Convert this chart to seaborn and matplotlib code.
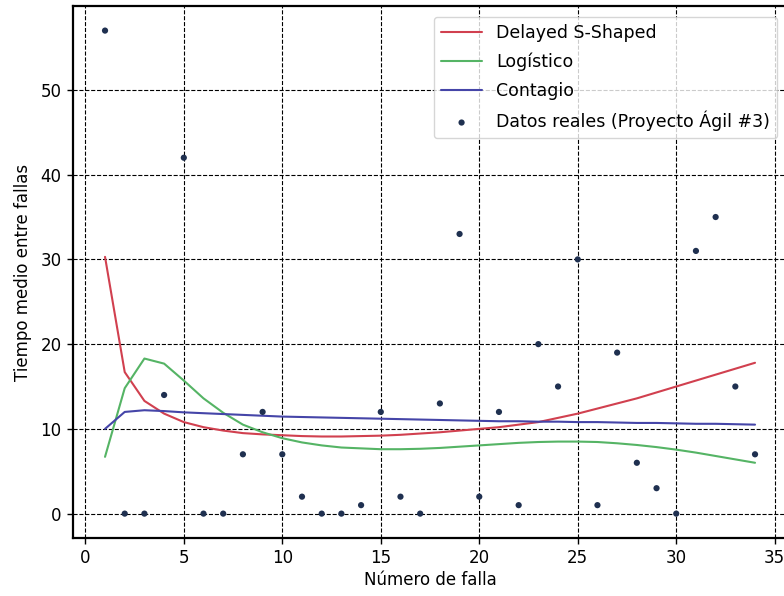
import numpy as np
import pandas as pd
import matplotlib
matplotlib.use('Agg')
import matplotlib.pyplot as plt
import seaborn as sns

# datos observados (tiempo entre fallas)
falla = list(range(1, 35))
tiempo_real = [57, 0, 0, 14, 42, 0, 0, 7, 12, 7, 2, 0, 0, 1, 12, 2, 0, 13, 33, 2,
               12, 1, 20, 15, 30, 1, 19, 6, 3, 0, 31, 35, 15, 7]

# curvas de los modelos
delayed_s = [30.3, 16.7, 13.3, 11.8, 10.8, 10.2, 9.8, 9.5, 9.35, 9.25, 9.15, 9.1, 9.1, 9.15,
             9.2, 9.3, 9.45, 9.6, 9.8, 10.0, 10.2, 10.5, 10.8, 11.3, 11.8, 12.4, 13.0,
             13.6, 14.3, 15.0, 15.7, 16.4, 17.1, 17.8]
logistico = [6.7, 14.8, 18.3, 17.7, 15.7, 13.6, 11.9, 10.5, 9.6, 8.9, 8.4, 8.05, 7.8, 7.7,
             7.6, 7.6, 7.65, 7.75, 7.9, 8.05, 8.2, 8.35, 8.45, 8.5, 8.5, 8.45, 8.3, 8.1,
             7.85, 7.55, 7.2, 6.8, 6.4, 6.0]
contagio = [10.0, 12.0, 12.2, 12.1, 11.95, 11.85, 11.75, 11.65, 11.55, 11.45, 11.4, 11.35,
            11.3, 11.25, 11.2, 11.15, 11.1, 11.05, 11.0, 10.95, 10.9, 10.9, 10.85, 10.85,
            10.8, 10.8, 10.75, 10.7, 10.7, 10.65, 10.6, 10.6, 10.55, 10.5]

modelos = ['Delayed S-Shaped', 'Logístico', 'Contagio']
colores = ['#d1404f', '#55b465', '#4545a8']

df_mod = pd.DataFrame({
    'falla': falla * 3,
    'tiempo': delayed_s + logistico + contagio,
    'modelo': [m for m in modelos for _ in falla],
})
df_real = pd.DataFrame({'falla': falla, 'tiempo': tiempo_real})

sns.set_style('white')
plt.rcParams['font.family'] = ['DejaVu Sans']
plt.rcParams['text.color'] = 'black'
plt.rcParams['axes.labelcolor'] = 'black'
plt.rcParams['xtick.color'] = 'black'
plt.rcParams['ytick.color'] = 'black'

fig = plt.figure(figsize=(7.84, 5.96), dpi=100)
ax = fig.add_axes([0.0925, 0.0977, 0.912, 0.8915])

sns.lineplot(data=df_mod, x='falla', y='tiempo', hue='modelo', palette=colores,
             hue_order=modelos, linewidth=1.5, ax=ax)
sns.scatterplot(data=df_real, x='falla', y='tiempo', color='#1f3050', s=20,
                edgecolor='none', label='Datos reales (Proyecto Ágil #3)', ax=ax, zorder=3)

ax.grid(True, color='black', linestyle='--', linewidth=0.8)
ax.set_axisbelow(True)
for sp in ax.spines.values():
    sp.set_color('black')
    sp.set_linewidth(1.6)

ax.set_xticks([0, 5, 10, 15, 20, 25, 30, 35])
ax.set_yticks([0, 10, 20, 30, 40, 50])
ax.set_xlim(-0.65, 35.65)
ax.set_ylim(-2.85, 59.85)
ax.tick_params(direction='out', length=4, width=1, labelsize=12,
               bottom=True, left=True, pad=4)
ax.set_xlabel('Número de falla', fontsize=12, labelpad=3)
ax.set_ylabel('Tiempo medio entre fallas', fontsize=12, labelpad=6)

ax.legend(loc='upper right', fontsize=12.5, frameon=True, fancybox=True, framealpha=0.8,
          handlelength=2.4, labelspacing=0.62, borderaxespad=0.6)

plt.savefig('out.png', dpi=100)
plt.close()
